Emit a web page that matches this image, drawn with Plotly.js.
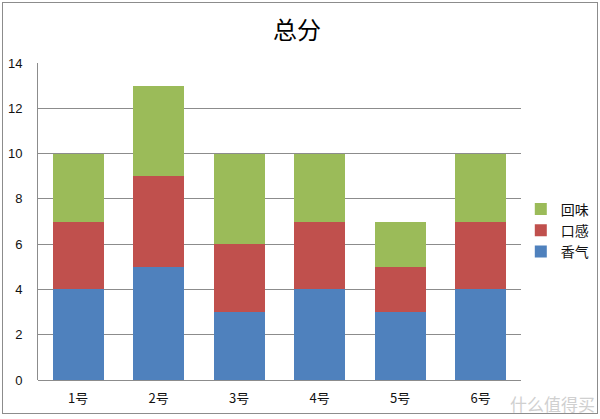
<!DOCTYPE html>
<html>
<head>
<meta charset="utf-8">
<script src="https://cdn.plot.ly/plotly-3.0.1.min.js"></script>
<style>
html,body{margin:0;padding:0;background:#fff;}
#wrap{position:relative;width:600px;height:419px;}
#chart{width:600px;height:419px;}
#frame{position:absolute;left:2px;top:2px;width:594px;height:410px;border:1px solid #8c8c8c;pointer-events:none;}
</style>
</head>
<body>
<div id="wrap"><div id="chart"></div><div id="frame"></div></div>
<script>
const categories = ["1号","2号","3号","4号","5号","6号"];
const xiangqi = [4,5,3,4,3,4];   // 香气
const kougan  = [3,4,3,3,2,3];   // 口感
const huiwei  = [3,4,4,3,2,3];   // 回味
const seriesNames = ["香气","口感","回味"];
const yTicks = [0,2,4,6,8,10,12,14];

const colors = ["#4F81BD","#C0504D","#9BBB59"];
const vals = [xiangqi,kougan,huiwei];
const traces = vals.map((v,i)=>({
  type:"bar", x:categories, y:v, name:seriesNames[i],
  marker:{color:colors[i], line:{width:0}}
}));

const layout = {
  width:600, height:419,
  margin:{l:38,r:79,t:63,b:39},
  paper_bgcolor:"#fff", plot_bgcolor:"#fff",
  barmode:"stack", bargap:0.366,
  title:{text:"总分", x:0.495, xref:"container", y:0.928, yref:"container", yanchor:"middle",
    font:{family:"Noto Sans CJK SC, sans-serif", size:24, color:"#000"}},
  xaxis:{showgrid:false, showline:false, zeroline:false, ticks:"", ticklabelstandoff:9,
    tickfont:{family:"Noto Sans CJK SC, sans-serif", size:13, color:"#111"}},
  yaxis:{range:[0,14], tickvals:yTicks, showgrid:true, gridcolor:"#8c8c8c", gridwidth:1,
    showline:true, linecolor:"#8c8c8c", linewidth:1, zeroline:true, zerolinecolor:"#8c8c8c",
    ticks:"", ticklabelstandoff:12,
    tickfont:{family:"Liberation Sans, Arial, sans-serif", size:13, color:"#111"}},
  legend:{traceorder:"reversed", xref:"container", yref:"container",
    x:0.868, xanchor:"left", y:0.45, yanchor:"middle",
    font:{family:"Noto Sans CJK SC, sans-serif", size:14, color:"#111"},
    itemwidth:30, tracegroupgap:0, bgcolor:"rgba(0,0,0,0)"},
  annotations:[{text:"什么值得买", xref:"paper", yref:"paper", x:1.066, y:-0.0726,
    showarrow:false, xanchor:"center", yanchor:"middle",
    font:{family:"Noto Sans CJK SC, sans-serif", size:17, color:"#d0d0d0"}}]
};
Plotly.newPlot("chart", traces, layout, {displayModeBar:false, staticPlot:true});
</script>
</body>
</html>
